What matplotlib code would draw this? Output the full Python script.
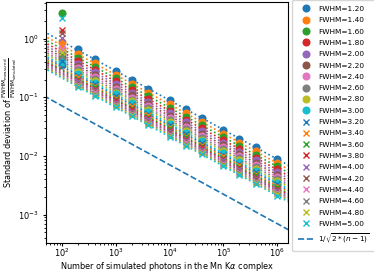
import numpy as np
import matplotlib
matplotlib.use("Agg")
import matplotlib.pyplot as plt

# number of simulated photons per run
photons = [100, 200, 400, 1000, 2000, 4000, 1e4, 2e4, 4e4, 1e5, 2e5, 4e5, 1e6]

fwhm = [1.2, 1.4, 1.6, 1.8, 2.0, 2.2, 2.4, 2.6, 2.8, 3.0,
        3.2, 3.4, 3.6, 3.8, 4.0, 4.2, 4.4, 4.6, 4.8, 5.0]

# std of FWHM_measured / FWHM_simulated, one row per FWHM
std_fwhm_1_2 = [0.36, 0.66, 0.442, 0.279, 0.197, 0.140, 0.0883, 0.0624, 0.0442, 0.0279, 0.0197, 0.0140, 0.00883]
std_fwhm_1_4 = [0.87, 0.535, 0.379, 0.239, 0.169, 0.120, 0.0757, 0.0535, 0.0379, 0.0239, 0.0169, 0.0120, 0.00757]
std_fwhm_1_6 = [2.7, 0.469, 0.332, 0.210, 0.148, 0.105, 0.0663, 0.0469, 0.0332, 0.0210, 0.0148, 0.0105, 0.00663]
std_fwhm_1_8 = [0.62, 0.416, 0.295, 0.186, 0.132, 0.0931, 0.0589, 0.0416, 0.0295, 0.0186, 0.0132, 0.00931, 0.00589]
std_fwhm_2_0 = [0.55, 0.375, 0.265, 0.168, 0.119, 0.0838, 0.0530, 0.0375, 0.0265, 0.0168, 0.0119, 0.00838, 0.00530]
std_fwhm_2_2 = [0.48, 0.341, 0.241, 0.152, 0.108, 0.0762, 0.0482, 0.0341, 0.0241, 0.0152, 0.0108, 0.00762, 0.00482]
std_fwhm_2_4 = [0.70, 0.313, 0.221, 0.140, 0.0988, 0.0699, 0.0442, 0.0313, 0.0221, 0.0140, 0.00988, 0.00699, 0.00442]
std_fwhm_2_6 = [0.45, 0.288, 0.204, 0.129, 0.0912, 0.0645, 0.0408, 0.0288, 0.0204, 0.0129, 0.00912, 0.00645, 0.00408]
std_fwhm_2_8 = [0.58, 0.268, 0.190, 0.120, 0.0847, 0.0599, 0.0379, 0.0268, 0.0190, 0.0120, 0.00847, 0.00599, 0.00379]
std_fwhm_3_0 = [0.40, 0.250, 0.177, 0.112, 0.0789, 0.0558, 0.0353, 0.0250, 0.0177, 0.0112, 0.00789, 0.00558, 0.00353]
std_fwhm_3_2 = [0.42, 0.234, 0.166, 0.105, 0.0740, 0.0523, 0.0331, 0.0234, 0.0166, 0.0105, 0.00740, 0.00523, 0.00331]
std_fwhm_3_4 = [0.75, 0.221, 0.156, 0.0987, 0.0698, 0.0493, 0.0312, 0.0221, 0.0156, 0.00987, 0.00698, 0.00493, 0.00312]
std_fwhm_3_6 = [0.52, 0.208, 0.147, 0.0930, 0.0657, 0.0465, 0.0294, 0.0208, 0.0147, 0.00930, 0.00657, 0.00465, 0.00294]
std_fwhm_3_8 = [1.42, 0.197, 0.140, 0.0882, 0.0624, 0.0441, 0.0279, 0.0197, 0.0140, 0.00882, 0.00624, 0.00441, 0.00279]
std_fwhm_4_0 = [1.04, 0.187, 0.133, 0.0838, 0.0593, 0.0419, 0.0265, 0.0187, 0.0133, 0.00838, 0.00593, 0.00419, 0.00265]
std_fwhm_4_2 = [1.26, 0.178, 0.126, 0.0797, 0.0563, 0.0398, 0.0252, 0.0178, 0.0126, 0.00797, 0.00563, 0.00398, 0.00252]
std_fwhm_4_4 = [0.66, 0.170, 0.121, 0.0762, 0.0539, 0.0381, 0.0241, 0.0170, 0.0121, 0.00762, 0.00539, 0.00381, 0.00241]
std_fwhm_4_6 = [0.50, 0.163, 0.115, 0.0727, 0.0514, 0.0364, 0.0230, 0.0163, 0.0115, 0.00727, 0.00514, 0.00364, 0.00230]
std_fwhm_4_8 = [0.60, 0.156, 0.111, 0.0699, 0.0494, 0.0349, 0.0221, 0.0156, 0.0111, 0.00699, 0.00494, 0.00349, 0.00221]
std_fwhm_5_0 = [2.2, 0.150, 0.106, 0.0670, 0.0474, 0.0335, 0.0212, 0.0150, 0.0106, 0.00670, 0.00474, 0.00335, 0.00212]

series = [std_fwhm_1_2, std_fwhm_1_4, std_fwhm_1_6, std_fwhm_1_8, std_fwhm_2_0,
          std_fwhm_2_2, std_fwhm_2_4, std_fwhm_2_6, std_fwhm_2_8, std_fwhm_3_0,
          std_fwhm_3_2, std_fwhm_3_4, std_fwhm_3_6, std_fwhm_3_8, std_fwhm_4_0,
          std_fwhm_4_2, std_fwhm_4_4, std_fwhm_4_6, std_fwhm_4_8, std_fwhm_5_0]

plt.rcParams["font.size"] = 5.9
plt.rcParams["xtick.major.size"] = 2.0
plt.rcParams["ytick.major.size"] = 2.5
plt.rcParams["xtick.minor.size"] = 1.2
plt.rcParams["ytick.minor.size"] = 1.4
plt.rcParams["xtick.major.pad"] = 0.5
plt.rcParams["ytick.major.pad"] = 3.0
plt.rcParams["axes.labelpad"] = 0.8

fig = plt.figure(figsize=(3.74, 2.73), dpi=100)
ax = fig.add_axes([0.123, 0.11, 0.647, 0.883])

n = np.array(photons, dtype=float)
n_line = np.logspace(np.log10(45), np.log10(2.5e6), 100)
for idx, (w, vals) in enumerate(zip(fwhm, series)):
    color = f"C{idx % 10}"
    marker = "o" if idx < 10 else "x"
    y = np.array(vals)
    ax.plot(n, y, linestyle="none", marker=marker, color=color,
            markersize=4.8, label=f"FWHM={w:.2f}")
    # 1/sqrt(n) fit, first point (n=100) left out
    coef = np.exp(np.mean(np.log(y[1:]) + 0.5 * np.log(n[1:])))
    ax.plot(n_line, coef / np.sqrt(n_line), linestyle=":", color=color, linewidth=1.2)

ax.plot(n_line, 1 / np.sqrt(2 * (n_line - 1)), linestyle="--", color="C0",
        linewidth=1.2, label=r"$1/\sqrt{2*(n-1)}$")

ax.set_xscale("log")
ax.set_yscale("log")
ax.set_xlim(50, 1.6e6)
ax.set_ylim(3.3e-4, 4.2)
ax.set_xlabel(r"Number of simulated photons in the Mn K$\alpha$ complex")
ax.set_ylabel(r"Standard deviation of $\frac{\mathrm{FWHM}_{\mathrm{measured}}}{\mathrm{FWHM}_{\mathrm{simulated}}}$")
ax.yaxis.set_label_coords(-0.113, 0.5)
ax.legend(loc="upper left", bbox_to_anchor=(1.018, 1.008), borderaxespad=0,
          fontsize=5.3, labelspacing=0.7, borderpad=0.8, handletextpad=0.7)

fig.savefig("out.png", dpi=100)
